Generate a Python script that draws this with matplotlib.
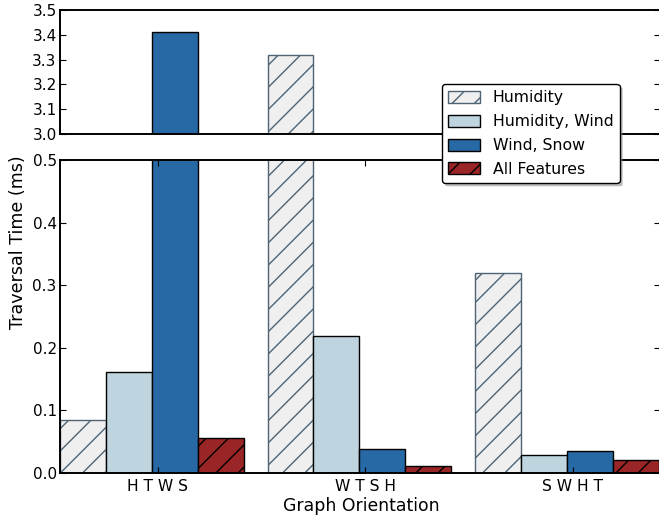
import matplotlib
matplotlib.use("Agg")
import matplotlib.pyplot as plt
from matplotlib.patches import FancyBboxPatch
import numpy as np

# data
groups = ["H T W S", "W T S H", "S W H T"]
series = ["Humidity", "Humidity, Wind", "Wind, Snow", "All Features"]
humidity = [0.085, 3.32, 0.32]
humidity_wind = [0.161, 0.219, 0.029]
wind_snow = [3.41, 0.038, 0.035]
all_features = [0.056, 0.011, 0.021]

faces = ["#efefef", "#bed4de", "#2769a4", "#9a2526"]
edges = ["#4e6475", "black", "black", "black"]
hatches = ["///", "", "", "///"]

plt.rcParams["hatch.linewidth"] = 0.5
plt.rcParams["font.family"] = "DejaVu Sans"

fig = plt.figure(figsize=(6.59 / 2, 5.21 / 2), dpi=200)
ax_top = fig.add_axes([60 / 659, 1 - 134 / 521, 600 / 659, 124 / 521])
ax_bot = fig.add_axes([60 / 659, 1 - 473 / 521, 600 / 659, 313 / 521])

ind = np.arange(len(groups))
w = 0.221
vals = [humidity, humidity_wind, wind_snow, all_features]

for ax in (ax_top, ax_bot):
    for k, v in enumerate(vals):
        ax.bar(ind + k * w, v, w, align="edge", color=faces[k], edgecolor=edges[k],
               hatch=hatches[k], linewidth=0.5, label=series[k])
    ax.set_xlim(0, 2.89)
    for s in ax.spines.values():
        s.set_linewidth(0.7)
    ax.tick_params(axis="y", direction="in", left=True, right=True, length=2,
                   width=0.4, labelsize=5.5, pad=1.2)

ax_top.set_ylim(3.0, 3.5)
ax_top.set_yticks(np.arange(3.0, 3.51, 0.1))
ax_top.set_xticks([])

ax_bot.set_ylim(0, 0.5)
ax_bot.set_yticks(np.arange(0, 0.51, 0.1))
ax_bot.set_xticks(ind + 0.47)
ax_bot.set_xticklabels(groups)
ax_bot.tick_params(axis="x", direction="in", bottom=True, top=True, length=2,
                   width=0.4, labelsize=5.6, pad=2)

fig.text(18 / 659, 1 - 242 / 521, "Traversal Time (ms)", rotation=90,
         ha="center", va="center", fontsize=6.3)
fig.text(361 / 659, 1 - 506 / 521, "Graph Orientation", ha="center",
         va="center", fontsize=6.2)

h, l = ax_bot.get_legend_handles_labels()
leg = fig.legend(h, l, loc="upper left", bbox_to_anchor=(442 / 659, 1 - 84 / 521),
                 fontsize=5.7, fancybox=True, shadow=False, framealpha=1,
                 edgecolor="black", borderpad=0.4, labelspacing=0.56,
                 handlelength=2.0, handleheight=0.8, borderaxespad=0)
leg.get_frame().set_linewidth(0.5)
leg.set_zorder(10)

# soft shadow under the legend box
fig.canvas.draw()
bb = leg.get_frame().get_window_extent().transformed(fig.transFigure.inverted())
dx, dy = 3 / 659, 3 / 521
shadow = FancyBboxPatch((bb.x0 + dx, bb.y0 - dy), bb.width, bb.height,
                        boxstyle="round,pad=0,rounding_size=0.004",
                        transform=fig.transFigure, fc="0.55", ec="none",
                        alpha=0.6, zorder=9)
fig.add_artist(shadow)

fig.savefig("out.png", dpi=200)
